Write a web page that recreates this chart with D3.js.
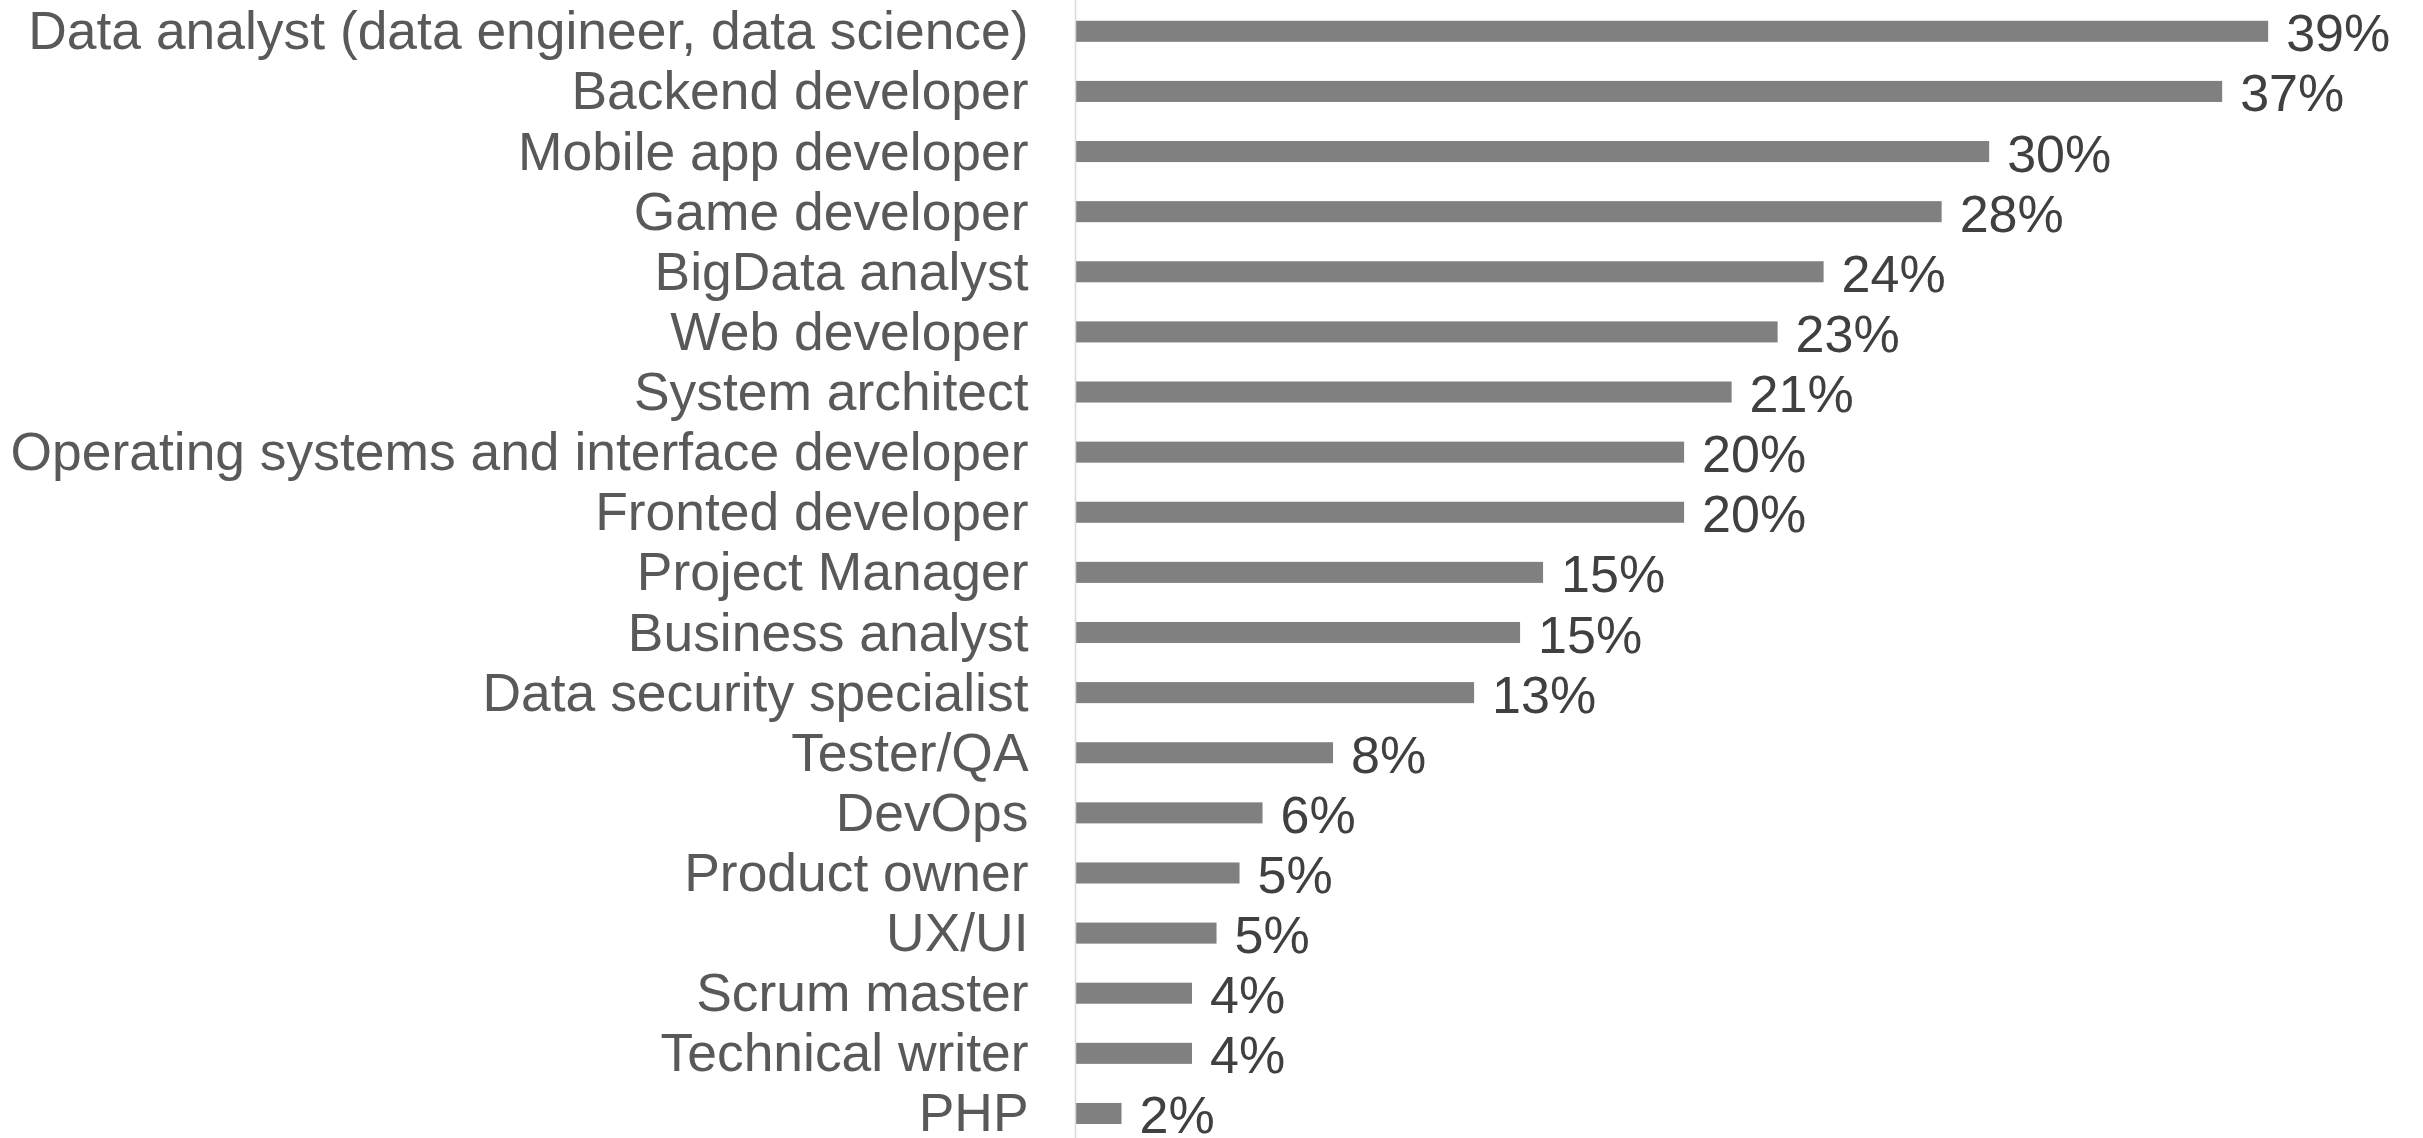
<!DOCTYPE html>
<html>
<head>
<meta charset="utf-8">
<script src="https://cdn.jsdelivr.net/npm/d3@7"></script>
<style>
  body { margin: 0; background: #fff; }
  text { font-family: "Liberation Sans", Arial, sans-serif; }
</style>
</head>
<body>
<div class="chart"></div>
<script>
// roles and share of respondents (%)
const roles = [
  "Data analyst (data engineer, data science)",
  "Backend developer",
  "Mobile app developer",
  "Game developer",
  "BigData analyst",
  "Web developer",
  "System architect",
  "Operating systems and interface developer",
  "Fronted developer",
  "Project Manager",
  "Business analyst",
  "Data security specialist",
  "Tester/QA",
  "DevOps",
  "Product owner",
  "UX/UI",
  "Scrum master",
  "Technical writer",
  "PHP"
];
const shares = [38.9, 37.4, 29.8, 28.25, 24.4, 22.9, 21.4, 19.85, 19.85, 15.25, 14.5, 13.0, 8.4, 6.1, 5.35, 4.6, 3.8, 3.8, 1.5];

const width = 2423, height = 1138;
const axisX = 1075.5;

const data = roles.map((r, i) => ({role: r, value: shares[i]}));

const svg = d3.select(".chart")
  .append("svg")
    .attr("width", width)
    .attr("height", height);

// x scale: percent -> pixels
const x = d3.scaleLinear()
  .domain([0, 40])
  .range([axisX, axisX + 40 * 30.66]);

// y scale: one band per role
const y = d3.scaleBand()
  .domain(roles)
  .range([1.24, 1.24 + 60.12 * roles.length])
  .paddingInner(0.65)
  .paddingOuter(0.325);

// bars
svg.selectAll(".bar")
  .data(data)
  .join("rect")
    .attr("class", "bar")
    .attr("x", x(0))
    .attr("y", d => y(d.role))
    .attr("width", d => x(d.value) - x(0))
    .attr("height", y.bandwidth())
    .attr("fill", "#808080");

// vertical axis line
svg.append("line")
  .attr("x1", axisX).attr("x2", axisX)
  .attr("y1", 0).attr("y2", height)
  .attr("stroke", "#d9d9d9")
  .attr("stroke-width", 1.5);

// category labels
svg.selectAll(".cat")
  .data(data)
  .join("text")
    .attr("class", "cat")
    .attr("x", axisX - 47)
    .attr("y", d => y(d.role) + y.bandwidth() / 2 + 18)
    .attr("text-anchor", "end")
    .attr("font-size", "53.4px")
    .attr("fill", "#595959")
    .text(d => d.role);

// value labels
svg.selectAll(".label")
  .data(data)
  .join("text")
    .attr("class", "label")
    .attr("x", d => x(d.value) + 18)
    .attr("y", d => y(d.role) + y.bandwidth() / 2 + 20)
    .attr("font-size", "52px")
    .attr("fill", "#404040")
    .text(d => Math.round(d.value) + "%");
</script>
</body>
</html>
